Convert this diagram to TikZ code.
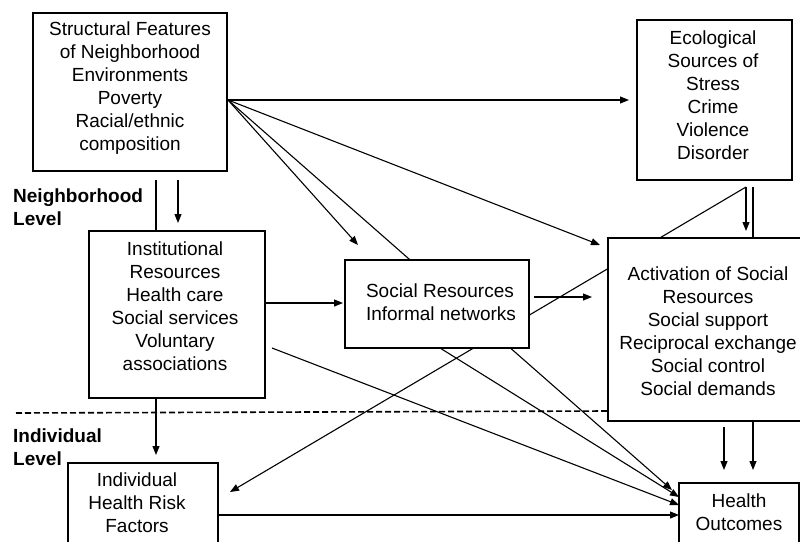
\documentclass[tikz,border=0pt]{standalone}
\usepackage{fontspec}
\setmainfont{Liberation Sans}
\usetikzlibrary{arrows.meta}
\begin{document}
\begin{tikzpicture}[x=1pt,y=-1pt,
  box/.style={draw, fill=white, line width=1.1pt, inner sep=0pt, outer sep=0pt, anchor=north west},
  txt/.style={align=center, inner sep=0pt, font=\fontsize{19}{23}\selectfont},
  lvl/.style={align=left, inner sep=0pt, anchor=west, font=\fontsize{19}{23}\selectfont\bfseries},
  conn/.style={line width=1.1pt},
  arr/.style={conn, -{Triangle[length=9pt,width=7pt]}}]
\useasboundingbox (0,0) rectangle (800,541);

% connector end points
\coordinate (sR) at (228,100);
\coordinate (sB1) at (156,180);
\coordinate (sB2) at (178,180);
\coordinate (eTip) at (629,100);
\coordinate (aTip) at (600,245);
\coordinate (srTip) at (358,245);
\coordinate (h1) at (672,490);
\coordinate (h2) at (679,497);
\coordinate (h3) at (679,505);
\coordinate (h4) at (679,515);
\coordinate (iTip) at (156,455);
\coordinate (inTip) at (178,223);
\coordinate (iR) at (265,303);
\coordinate (iR2) at (272,348);
\coordinate (srL) at (343,303);
\coordinate (srR) at (534,297);
\coordinate (actL) at (592,297);
\coordinate (srB) at (440,348);
\coordinate (ecB1) at (746,187);
\coordinate (ecB2) at (753,187);
\coordinate (actT) at (746,231);
\coordinate (indTip) at (230,492);
\coordinate (hT2) at (753,470);
\coordinate (actB) at (724,427);
\coordinate (hT1) at (724,470);
\coordinate (indR) at (218,515);
\coordinate (dashL) at (16,413);
\coordinate (dashR) at (608,411);

% connectors (drawn first, boxes cover the hidden parts)
\draw[arr] (sR) -- (eTip);
\draw[arr] (sR) -- (aTip);
\draw[arr] (sR) -- (srTip);
\draw[arr] (sR) -- (h1);
\draw[arr] (sB1) -- (iTip);
\draw[arr] (sB2) -- (inTip);
\draw[arr] (iR) -- (srL);
\draw[arr] (iR2) -- (h3);
\draw[arr] (srR) -- (actL);
\draw[arr] (srB) -- (h2);
\draw[arr] (ecB1) -- (indTip);
\draw[arr] (ecB1) -- (actT);
\draw[arr] (ecB2) -- (hT2);
\draw[arr] (actB) -- (hT1);
\draw[arr] (indR) -- (h4);
\draw[line width=1.6pt, dash pattern=on 6pt off 3pt] (dashL) -- (dashR);

% boxes
\node[box, minimum width=194pt, minimum height=158pt] (struct) at (33,13) {};
\node[box, minimum width=155pt, minimum height=160pt] (ecol) at (637,20) {};
\node[box, minimum width=176pt, minimum height=167pt] (inst) at (89,231) {};
\node[box, minimum width=184pt, minimum height=88pt] (soc) at (345,260) {};
\node[box, minimum width=230pt, minimum height=183pt] (act) at (608,238) {};
\node[box, minimum width=120pt, minimum height=80pt] (health) at (679,483) {};
\node[box, minimum width=150pt, minimum height=100pt] (indiv) at (68,463) {};

% texts
\node[txt] (structT) at (130,88) {Structural Features\\of Neighborhood\\Environments\\Poverty\\Racial/ethnic\\composition};
\node[txt] (ecolT) at (713,95) {Ecological\\Sources of\\Stress\\Crime\\Violence\\Disorder};
\node[txt] (instT) at (175,306) {Institutional\\Resources\\Health care\\Social services\\Voluntary\\associations};
\node[txt, align=left] (socT) at (441,302) {Social Resources\\Informal networks};
\node[txt] (actT2) at (708,331) {Activation of Social\\Resources\\Social support\\Reciprocal exchange\\Social control\\Social demands};
\node[txt] (healthT) at (739,512) {Health\\Outcomes};
\node[txt] (indivT) at (137,503) {Individual\\Health Risk\\Factors};
\node[lvl] (nbhd) at (13,207) {Neighborhood\\Level};
\node[lvl] (indl) at (13,447) {Individual\\Level};
\end{tikzpicture}
\end{document}
